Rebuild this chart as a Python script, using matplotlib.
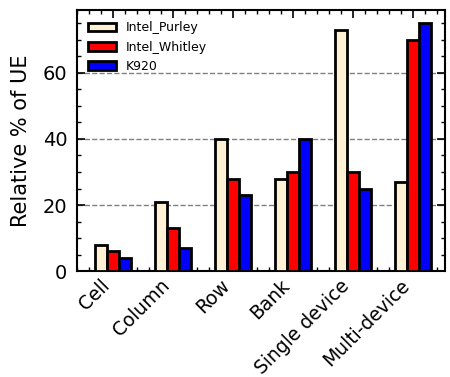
import matplotlib
matplotlib.use("Agg")
import matplotlib.pyplot as plt
import numpy as np
from matplotlib.ticker import MultipleLocator, AutoMinorLocator

categories = ["Cell", "Column", "Row", "Bank", "Single device", "Multi-device"]
purley = [8, 21, 40, 28, 73, 27]
whitley = [6, 13, 28, 30, 30, 70]
k920 = [4, 7, 23, 40, 25, 75]

fig = plt.figure(figsize=(4.5, 3.77), dpi=100)
ax = fig.add_axes([0.171, 0.281, 0.818, 0.692])

x = np.arange(len(categories))
w = 0.2
ax.bar(x - w, purley, w, color="#fff2d4", edgecolor="k", linewidth=2, label="Intel_Purley", zorder=3)
ax.bar(x, whitley, w, color="red", edgecolor="k", linewidth=2, label="Intel_Whitley", zorder=3)
ax.bar(x + w, k920, w, color="blue", edgecolor="k", linewidth=2, label="K920", zorder=3)

ax.set_xlim(-0.6, 5.53)
ax.set_ylim(0, 79)
ax.set_xticks(x)
ax.set_xticklabels(categories, rotation=45, ha="right", fontsize=13.5)
ax.yaxis.set_major_locator(MultipleLocator(20))
ax.yaxis.set_minor_locator(MultipleLocator(5))
ax.xaxis.set_minor_locator(AutoMinorLocator(5))
ax.tick_params(which="both", direction="in", top=True, right=True)
ax.tick_params(axis="y", labelsize=14, pad=7)
ax.tick_params(which="major", length=6, width=1.2)
ax.tick_params(which="minor", length=3, width=1)
for s in ax.spines.values():
    s.set_linewidth(1.5)
ax.yaxis.grid(True, linestyle="--", color="gray", linewidth=1)
ax.set_ylabel("Relative % of UE", fontsize=15, labelpad=8)
ax.legend(loc="upper left", frameon=False, fontsize=9, handlelength=2.2)

fig.savefig("out.png", dpi=100)
